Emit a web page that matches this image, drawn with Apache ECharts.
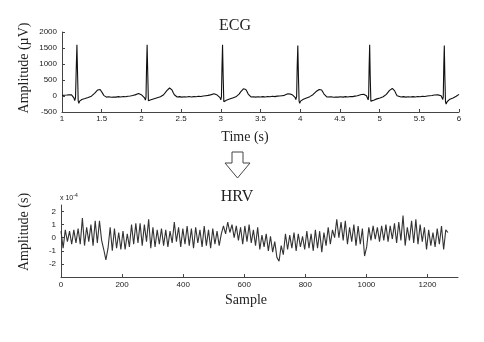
<!DOCTYPE html>
<html>
<head>
<meta charset="utf-8">
<script src="https://cdn.jsdelivr.net/npm/echarts@6/dist/echarts.min.js"></script>
<style>html,body{margin:0;padding:0;background:#fff;}#c{width:484px;height:342px;}</style>
</head>
<body>
<div id="c"></div>
<script>
// ECG: [time (s), amplitude (µV)]
var ecgData = [
[1.000,20],[1.015,35],[1.030,25],[1.045,45],[1.060,30],[1.075,50],[1.090,40],[1.105,60],[1.120,35],[1.135,20],[1.150,-60],[1.160,-140],[1.170,-60],[1.180,900],[1.188,1600],[1.196,700],[1.204,-150],[1.212,-230],[1.222,-160],[1.235,-130],[1.250,-110],[1.270,-90],[1.290,-80],[1.310,-60],[1.330,-45],[1.350,-30],[1.370,-5],[1.390,30],[1.410,80],[1.430,140],[1.450,190],[1.465,215],[1.480,205],[1.495,160],[1.510,90],[1.525,20],[1.540,-20],[1.560,-35],[1.590,-25],[1.620,-40],[1.650,-30],[1.680,-35],[1.710,-20],[1.740,-30],[1.770,-15],[1.800,-25],[1.830,-10],[1.860,0],[1.890,15],[1.920,35],[1.945,60],[1.965,75],[1.985,50],[2.005,30],[2.025,10],[2.040,-60],[2.050,-130],[2.058,-40],[2.065,900],[2.072,1600],[2.080,700],[2.088,-150],[2.096,-200],
[2.105,-150],[2.120,-120],[2.140,-100],[2.160,-85],[2.180,-70],[2.200,-55],[2.220,-40],[2.240,-25],[2.260,0],[2.280,40],[2.300,100],[2.320,170],[2.340,225],[2.355,250],[2.370,240],[2.385,190],[2.400,110],[2.415,40],[2.430,-10],[2.450,-30],[2.480,-20],[2.510,-35],[2.540,-25],[2.570,-30],[2.600,-15],[2.630,-30],[2.660,-20],[2.690,-25],[2.720,-10],[2.750,-15],[2.780,0],[2.810,10],[2.840,20],[2.870,35],[2.895,60],[2.915,70],[2.935,45],[2.955,30],[2.975,10],[2.990,-50],[3.000,-120],[3.008,-30],[3.015,900],[3.022,1600],[3.030,600],[3.038,-180],[3.046,-240],
[3.056,-170],[3.070,-130],[3.090,-110],[3.110,-95],[3.130,-80],[3.150,-60],[3.170,-45],[3.190,-25],[3.210,10],[3.230,60],[3.250,130],[3.270,190],[3.285,225],[3.300,230],[3.315,205],[3.330,140],[3.345,60],[3.360,0],[3.380,-30],[3.410,-25],[3.440,-35],[3.470,-25],[3.500,-30],[3.530,-20],[3.560,-30],[3.590,-15],[3.620,-25],[3.650,-10],[3.680,-20],[3.710,-5],[3.740,0],[3.770,10],[3.800,20],[3.825,40],[3.845,70],[3.860,85],[3.875,60],[3.890,20],[3.905,30],[3.920,10],[3.935,-40],[3.945,-110],[3.955,-20],[3.962,900],[3.970,1580],[3.978,600],[3.986,-160],[3.994,-230],
[4.004,-160],[4.020,-120],[4.040,-100],[4.060,-80],[4.080,-60],[4.100,-40],[4.120,-20],[4.140,5],[4.160,40],[4.180,90],[4.200,140],[4.220,180],[4.240,205],[4.255,215],[4.270,190],[4.285,130],[4.300,60],[4.315,0],[4.335,-30],[4.360,-35],[4.390,-25],[4.420,-40],[4.450,-30],[4.480,-35],[4.510,-25],[4.540,-35],[4.570,-20],[4.600,-30],[4.630,-15],[4.660,-20],[4.690,-5],[4.720,10],[4.745,25],[4.770,45],[4.790,60],[4.805,50],[4.820,20],[4.835,10],[4.848,-50],[4.856,-120],[4.862,-20],[4.868,900],[4.875,1600],[4.882,600],[4.890,-160],[4.898,-220],
[4.910,-160],[4.925,-130],[4.945,-110],[4.965,-90],[4.985,-75],[5.005,-60],[5.025,-45],[5.045,-25],[5.065,5],[5.085,50],[5.105,110],[5.125,175],[5.145,220],[5.160,235],[5.175,215],[5.190,160],[5.205,80],[5.220,10],[5.240,-25],[5.270,-30],[5.300,-20],[5.330,-35],[5.360,-25],[5.390,-30],[5.420,-20],[5.450,-30],[5.480,-15],[5.510,-25],[5.540,-10],[5.570,-15],[5.600,0],[5.630,10],[5.660,15],[5.690,30],[5.715,45],[5.735,35],[5.755,20],[5.775,10],[5.788,-40],[5.796,-110],[5.802,-20],[5.808,900],[5.815,1580],[5.822,600],[5.830,-180],[5.838,-250],
[5.850,-180],[5.865,-130],[5.885,-100],[5.905,-80],[5.925,-60],[5.945,-35],[5.965,-10],[5.985,20],[6.000,50]
];

// HRV: amplitude (x 10^-4 s), one value every HRV_STEP samples starting at sample 0
var HRV_STEP = 7;
var hrvValues = [
0.5,-0.8,0.6,-0.3,0.5,-0.5,0.6,-0.4,0.7,-0.5,
1.5,-0.6,0.8,-0.3,1.0,-0.6,1.3,-0.4,1.3,-0.2,
-0.9,-1.7,-0.8,0.8,-1.0,0.7,-0.8,0.4,-0.9,0.5,
-0.9,0.3,-0.7,1.0,-0.5,1.1,-0.4,1.1,-0.6,1.0,
-0.3,1.4,-0.8,0.8,-0.7,0.6,-0.5,0.7,-0.6,0.6,
-0.7,0.5,-0.4,1.2,-0.3,0.8,-0.7,0.7,-0.5,0.9,
-0.6,0.7,-0.8,0.8,-0.4,0.6,-0.7,0.9,-0.6,0.6,
-0.8,0.7,-0.5,0.5,-0.6,0.3,0.9,0.3,1.2,0.4,
1.0,0.0,0.9,-0.2,0.8,-0.5,0.9,-0.3,1.0,-0.4,
0.6,-0.6,0.8,-0.9,0.2,-0.7,0.3,-1.0,0.1,-1.1,
-0.3,-1.5,-1.8,-0.6,-1.3,0.3,-0.9,0.2,-0.8,0.4,
-1.0,0.3,-0.7,0.1,-0.9,0.5,-0.8,0.3,-1.0,0.6,
-0.8,0.5,-1.1,0.4,-0.6,0.8,-0.5,0.6,0.0,1.4,
0.0,1.2,-0.2,1.3,-0.5,0.8,-0.3,1.0,-0.6,0.9,
-0.5,0.7,-1.4,-0.7,0.8,-0.2,0.9,-0.1,0.8,-0.3,
0.9,-0.2,1.0,-0.3,0.9,-0.1,1.1,-0.4,1.2,-0.2,
1.7,-0.6,0.8,-0.2,1.3,-0.4,1.4,-0.5,1.0,-0.3,
0.8,-0.9,0.6,-0.6,0.4,-0.7,0.7,-0.5,0.9,-0.9,
0.6,0.4
];

var ecgXTicks = {min: 1, max: 6, interval: 0.5};
var ecgYTicks = {min: -500, max: 2000, interval: 500};
var hrvXTicks = {min: 0, max: 1300, interval: 200};
var hrvYTicks = {min: -3, max: 2.5, interval: 1};

var hrvData = hrvValues.map(function (v, i) { return [i * HRV_STEP, v]; });

var tickFont = {fontFamily: 'Liberation Sans, Arial, sans-serif', fontSize: 8, color: '#222'};
var axLine = {show: true, onZero: false, lineStyle: {color: '#444', width: 1}};
var tick = {show: true, inside: true, length: 3, lineStyle: {color: '#444'}};
var serif = 'Liberation Serif, Times New Roman, serif';
var sans = 'Liberation Sans, Arial, sans-serif';

function plain(v) { return String(v); }

var chart = echarts.init(document.getElementById('c'), null, {renderer: 'canvas'});
chart.setOption({
  animation: false,
  backgroundColor: '#fff',
  grid: [
    {left: 62, right: 25, top: 32, height: 80, containLabel: false},
    {left: 61, right: 26, top: 205, height: 72, containLabel: false}
  ],
  xAxis: [
    {type: 'value', gridIndex: 0, min: ecgXTicks.min, max: ecgXTicks.max, interval: ecgXTicks.interval,
     axisLine: axLine, axisTick: tick, splitLine: {show: false},
     axisLabel: Object.assign({margin: 3, formatter: plain}, tickFont)},
    {type: 'value', gridIndex: 1, min: hrvXTicks.min, max: hrvXTicks.max, interval: hrvXTicks.interval,
     axisLine: axLine, axisTick: tick, splitLine: {show: false},
     axisLabel: Object.assign({margin: 4, showMaxLabel: false,
       formatter: function (v) { return v % 200 === 0 ? String(v) : ''; }}, tickFont)}
  ],
  yAxis: [
    {type: 'value', gridIndex: 0, min: ecgYTicks.min, max: ecgYTicks.max, interval: ecgYTicks.interval,
     axisLine: axLine, axisTick: tick, splitLine: {show: false},
     axisLabel: Object.assign({margin: 5, formatter: plain}, tickFont)},
    {type: 'value', gridIndex: 1, min: hrvYTicks.min, max: hrvYTicks.max, interval: hrvYTicks.interval,
     axisLine: axLine, axisTick: tick, splitLine: {show: false},
     axisLabel: Object.assign({margin: 5, showMinLabel: false, showMaxLabel: false,
       formatter: function (v) { return (Number.isInteger(v) && v > -3) ? String(v) : ''; }}, tickFont)}
  ],
  series: [
    {type: 'line', xAxisIndex: 0, yAxisIndex: 0, data: ecgData, showSymbol: false, symbol: 'none',
     lineStyle: {color: '#111', width: 1.1}, clip: true},
    {type: 'line', xAxisIndex: 1, yAxisIndex: 1, data: hrvData, showSymbol: false, symbol: 'none',
     lineStyle: {color: '#333', width: 1.1}, clip: true}
  ],
  graphic: [
    {type: 'text', x: 235, y: 26, style: {text: 'ECG', font: '16px ' + serif, fill: '#222', align: 'center', verticalAlign: 'middle'}},
    {type: 'text', x: 245, y: 137, style: {text: 'Time (s)', font: '14px ' + serif, fill: '#222', align: 'center', verticalAlign: 'middle'}},
    {type: 'text', x: 237, y: 197, style: {text: 'HRV', font: '16px ' + serif, fill: '#222', align: 'center', verticalAlign: 'middle'}},
    {type: 'text', x: 246, y: 300, style: {text: 'Sample', font: '14px ' + serif, fill: '#222', align: 'center', verticalAlign: 'middle'}},
    {type: 'text', x: 24, y: 68, rotation: Math.PI / 2,
     style: {text: 'Amplitude (\u00b5V)', font: '14px ' + serif, fill: '#222', align: 'center', verticalAlign: 'middle'}},
    {type: 'text', x: 24, y: 232, rotation: Math.PI / 2,
     style: {text: 'Amplitude (s)', font: '14px ' + serif, fill: '#222', align: 'center', verticalAlign: 'middle'}},
    {type: 'text', x: 60, y: 193,
     style: {text: '{a|x 10}{b|-4}', rich: {
       a: {fontFamily: sans, fontSize: 7, fill: '#222', verticalAlign: 'bottom'},
       b: {fontFamily: sans, fontSize: 5, fill: '#222', verticalAlign: 'top', padding: [0,0,4,0]}}}},
    {type: 'polygon', shape: {points: [[232,152],[243,152],[243,163],[250,163],[237.5,178],[225,163],[232,163]]},
     style: {fill: '#fff', stroke: '#444', lineWidth: 1}}
  ]
});
</script>
</body>
</html>
